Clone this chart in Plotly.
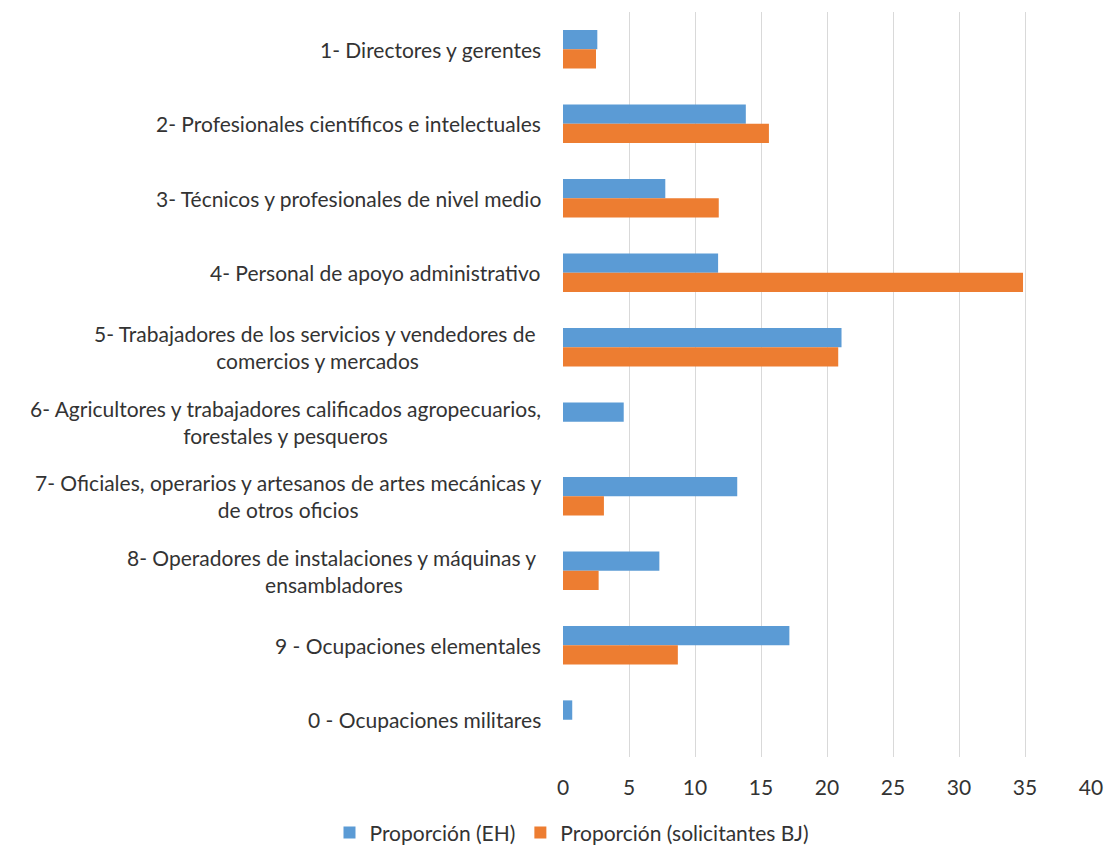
import plotly.graph_objects as go

labels = [
    '1- Directores y gerentes',
    '2- Profesionales científicos e intelectuales',
    '3- Técnicos y profesionales de nivel medio',
    '4- Personal de apoyo administrativo',
    '5- Trabajadores de los servicios y vendedores de <br>comercios y mercados',
    '6- Agricultores y trabajadores calificados agropecuarios,<br>forestales y pesqueros',
    '7- Oficiales, operarios y artesanos de artes mecánicas y<br>de otros oficios',
    '8- Operadores de instalaciones y máquinas y <br>ensambladores',
    '9 - Ocupaciones elementales',
    '0 - Ocupaciones militares',
]
prop_eh = [2.6, 13.85, 7.75, 11.75, 21.1, 4.6, 13.2, 7.3, 17.15, 0.7]
prop_bj = [2.5, 15.6, 11.8, 34.85, 20.85, 0, 3.1, 2.7, 8.7, 0]

font_family = 'Lato, Carlito, Calibri, sans-serif'
text_color = '#333333'

fig = go.Figure()
fig.add_trace(go.Bar(y=labels, x=prop_eh, orientation='h', name='Proporción (EH)',
                     marker=dict(color='#5B9BD5', line=dict(width=0))))
fig.add_trace(go.Bar(y=labels, x=prop_bj, orientation='h', name='Proporción (solicitantes BJ)',
                     marker=dict(color='#ED7D31', line=dict(width=0))))

# wrapped, centred category labels (Excel style)
for lab in labels:
    fig.add_annotation(x=0, xref='paper', xanchor='right', xshift=-20,
                       y=lab, yref='y', yanchor='middle',
                       text=lab, align='center', showarrow=False,
                       font=dict(size=21, color=text_color, family=font_family))

fig.update_layout(
    width=1115, height=849,
    margin=dict(l=563, r=18, t=12, b=92),
    paper_bgcolor='white', plot_bgcolor='white',
    barmode='group', bargap=0.48, bargroupgap=0,
    font=dict(family=font_family, size=21, color=text_color),
    legend=dict(orientation='h', xref='container', x=0.513, xanchor='center',
                yref='container', y=0.019, yanchor='middle',
                font=dict(size=21, color=text_color), traceorder='normal'),
    xaxis=dict(range=[0, 40], dtick=5, showgrid=True, gridcolor='#D9D9D9', gridwidth=1.3,
               zeroline=False, showline=False, ticks='', ticklabelstandoff=16,
               tickfont=dict(size=21, color=text_color), fixedrange=True),
    yaxis=dict(type='category', autorange='reversed', showticklabels=False, showgrid=False,
               zeroline=False, showline=False, ticks=''),
)

fig.write_html("out.html", config={'displayModeBar': False},
               post_script="document.body.style.margin='0';")
